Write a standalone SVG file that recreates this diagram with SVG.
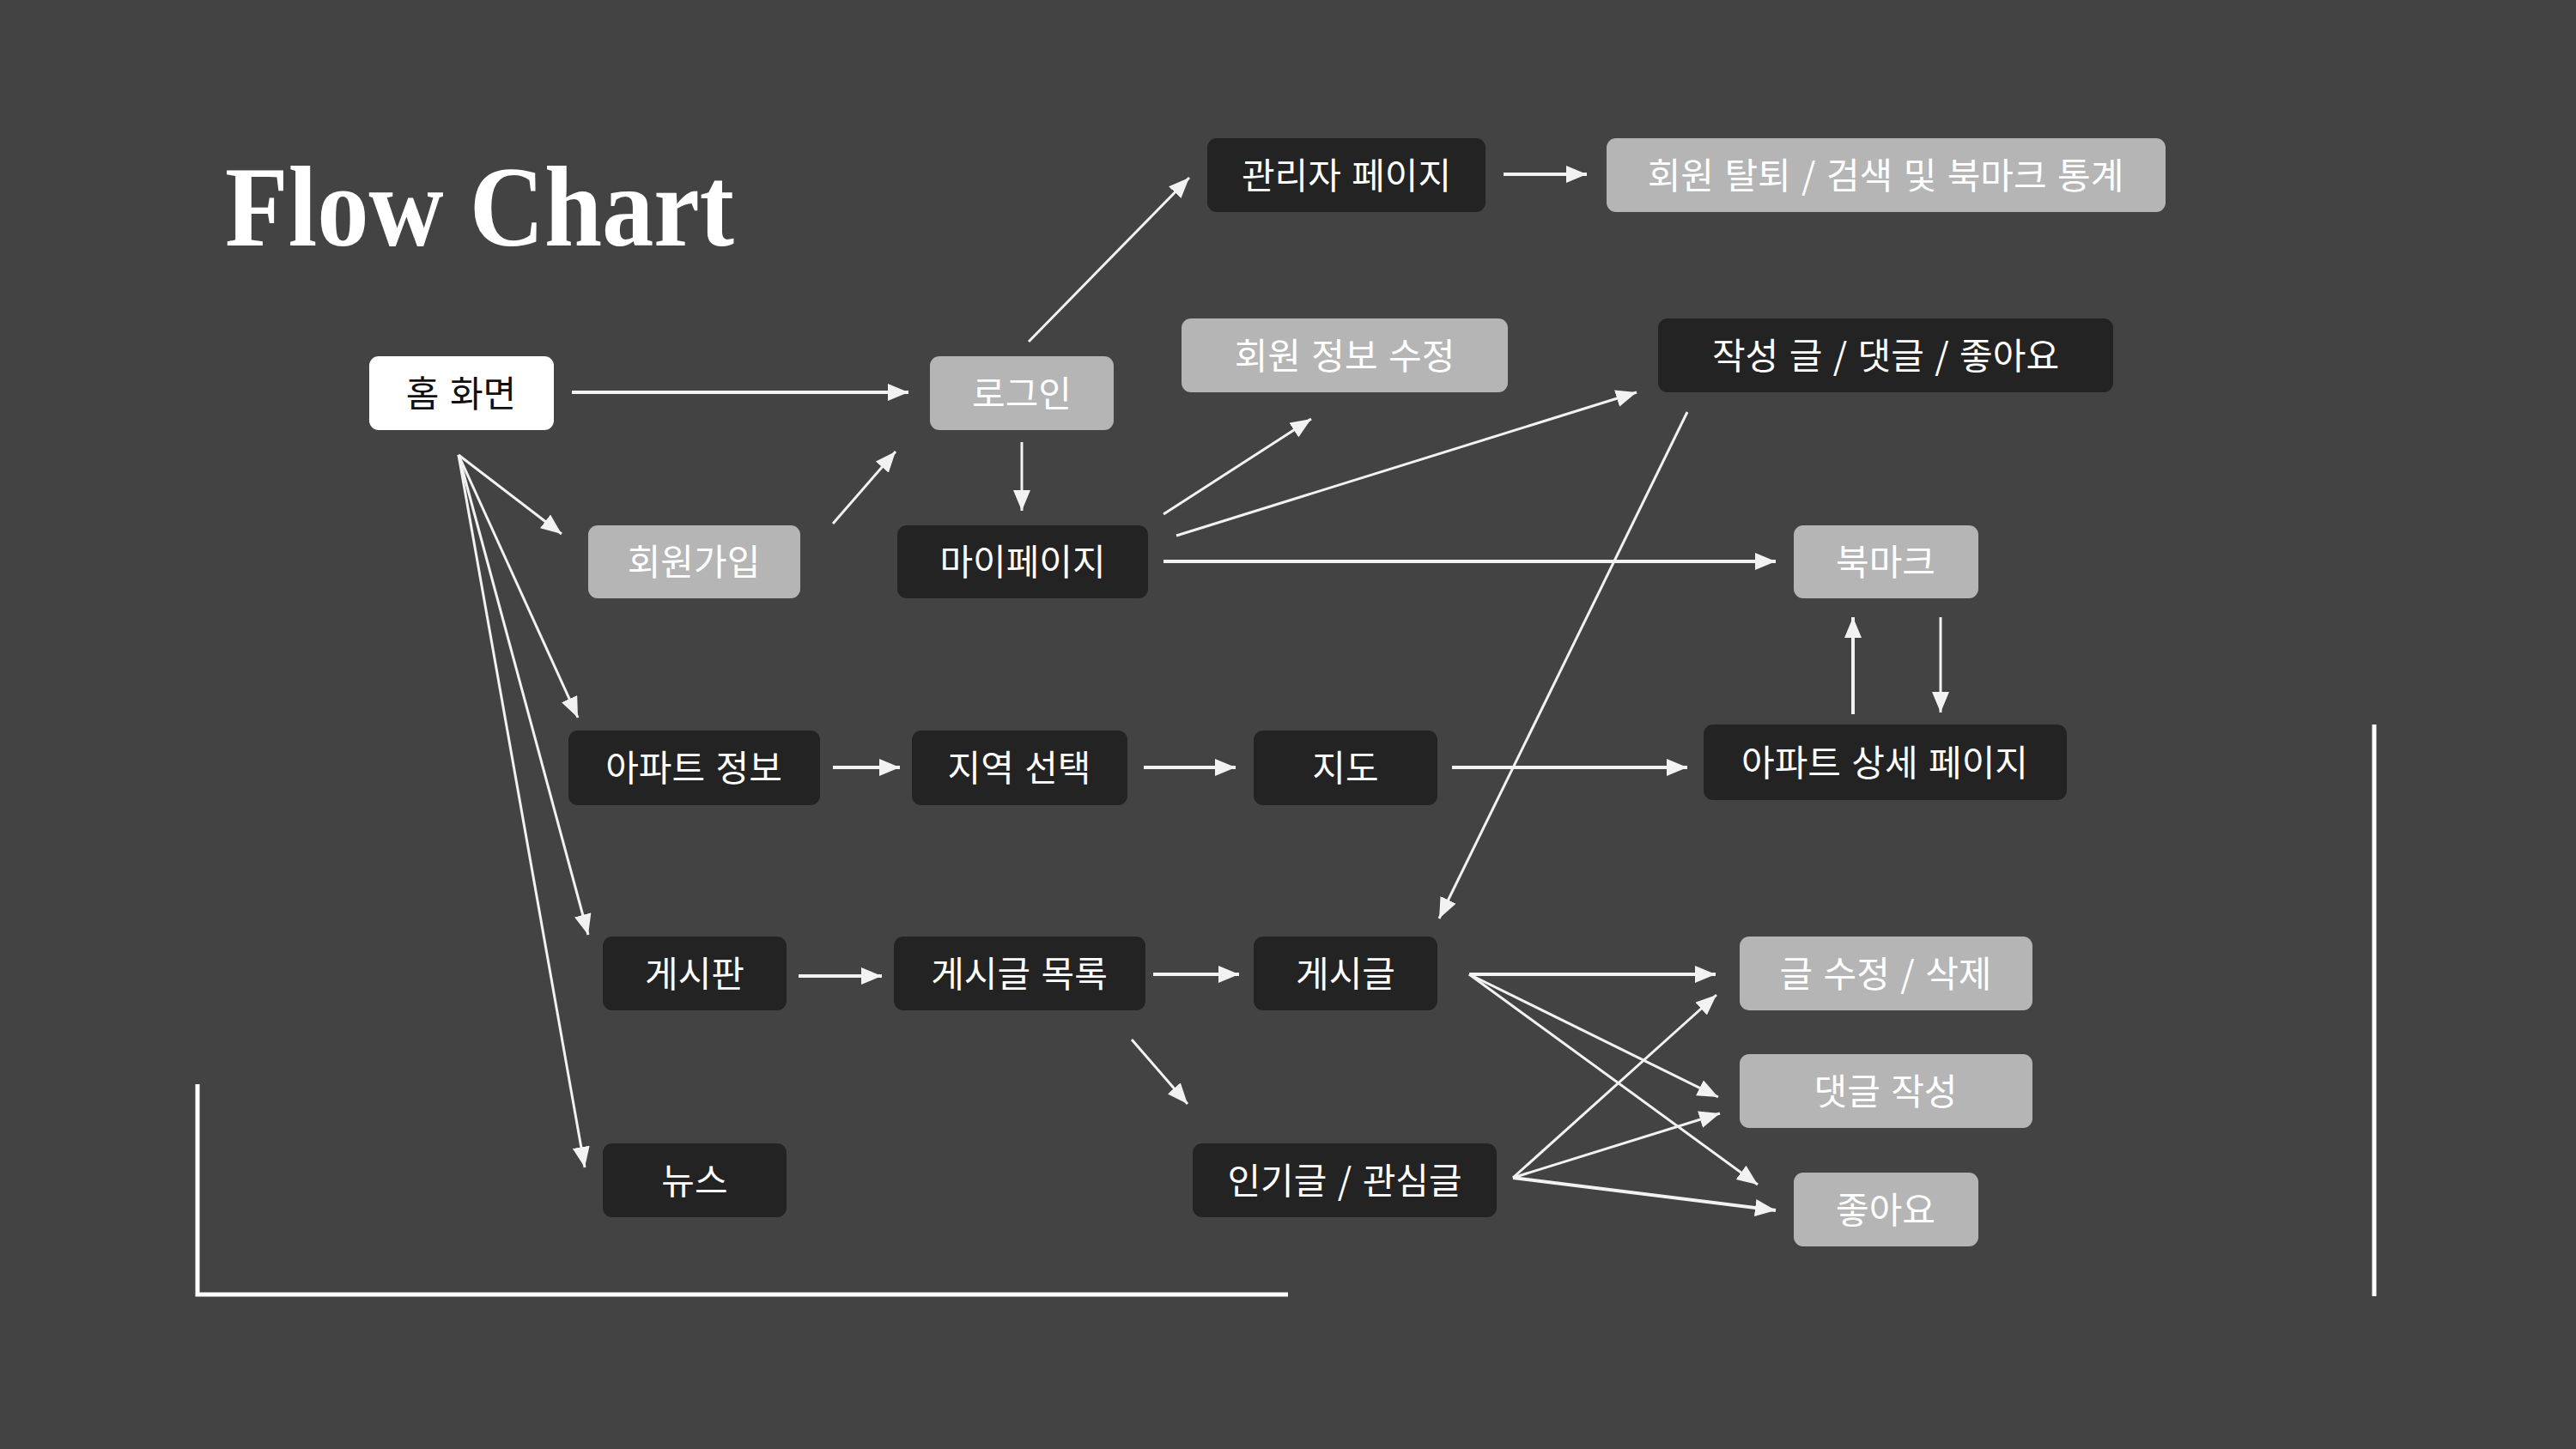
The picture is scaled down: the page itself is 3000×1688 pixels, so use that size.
<svg xmlns="http://www.w3.org/2000/svg" width="3000" height="1688" viewBox="0 0 3000 1688">
<defs>
<style>
.bg{fill:#434343}
.box{rx:11;ry:11}
.w{fill:#ffffff}
.g{fill:#b5b5b5}
.d{fill:#232323}
.t{font-family:"Noto Sans CJK KR","Noto Sans",sans-serif;font-size:42px;fill:#ffffff;text-anchor:middle;dominant-baseline:central;word-spacing:3px}
.tb{fill:#111111}
.c{stroke:#f2f2f2;stroke-width:4;fill:none;marker-end:url(#ah)}
.thin{stroke-width:3}
.deco{stroke:#ffffff;stroke-width:5;fill:none}
</style>
<marker id="ah" markerUnits="userSpaceOnUse" markerWidth="24" markerHeight="20" refX="24" refY="10" orient="auto">
<path d="M0,0 L24,10 L0,20 z" fill="#f2f2f2"/>
</marker>
</defs>
<rect class="bg" x="0" y="0" width="3000" height="1688"/>
<text x="262" y="286" font-family="'Liberation Serif',serif" font-weight="bold" font-size="134" fill="#ffffff" textLength="593" lengthAdjust="spacingAndGlyphs">Flow Chart</text>
<g id="decoration">
<polyline class="deco" points="230,1263 230,1508 1500,1508"/>
<line class="deco" x1="2765" y1="844" x2="2765" y2="1510"/>
</g>
<g id="connectors">
<line class="c" x1="666" y1="457" x2="1058" y2="457"/>
<line class="c thin" x1="1198" y1="398" x2="1385" y2="207"/>
<line class="c" x1="1751" y1="203" x2="1848" y2="203"/>
<line class="c thin" x1="1190" y1="515" x2="1190" y2="595"/>
<line class="c thin" x1="970" y1="610" x2="1043" y2="526"/>
<line class="c thin" x1="534" y1="530" x2="654" y2="622"/>
<line class="c thin" x1="534" y1="530" x2="673" y2="836"/>
<line class="c thin" x1="534" y1="530" x2="685" y2="1089"/>
<line class="c thin" x1="534" y1="530" x2="681" y2="1360"/>
<line class="c thin" x1="1355" y1="599" x2="1527" y2="488"/>
<line class="c thin" x1="1370" y1="624" x2="1906" y2="457"/>
<line class="c" x1="1355" y1="654" x2="2068" y2="654"/>
<line class="c thin" x1="1965" y1="480" x2="1676" y2="1070"/>
<line class="c" x1="2158" y1="832" x2="2158" y2="719"/>
<line class="c thin" x1="2260" y1="719" x2="2260" y2="830"/>
<line class="c" x1="970" y1="894" x2="1048" y2="894"/>
<line class="c" x1="1332" y1="894" x2="1439" y2="894"/>
<line class="c" x1="1691" y1="894" x2="1965" y2="894"/>
<line class="c" x1="930" y1="1137" x2="1027" y2="1137"/>
<line class="c" x1="1343" y1="1135" x2="1443" y2="1135"/>
<line class="c thin" x1="1318" y1="1211" x2="1383" y2="1286"/>
<line class="c" x1="1711" y1="1135" x2="1998" y2="1135"/>
<line class="c thin" x1="1711" y1="1135" x2="2001" y2="1278"/>
<line class="c thin" x1="1711" y1="1135" x2="2047" y2="1380"/>
<line class="c thin" x1="1762" y1="1372" x2="1999" y2="1159"/>
<line class="c thin" x1="1762" y1="1372" x2="2003" y2="1297"/>
<line class="c" x1="1762" y1="1372" x2="2068" y2="1410"/>
</g>
<g id="home"><rect class="box w" x="430" y="415" width="215" height="86"/><text class="t tb" x="537" y="455">홈 화면</text></g>
<g id="login"><rect class="box g" x="1083" y="415" width="214" height="86"/><text class="t" x="1190" y="455">로그인</text></g>
<g id="admin"><rect class="box d" x="1406" y="161" width="324" height="86"/><text class="t" x="1568" y="201">관리자 페이지</text></g>
<g id="admin-stats"><rect class="box g" x="1871" y="161" width="651" height="86"/><text class="t" x="2196" y="201">회원 탈퇴 / 검색 및 북마크 통계</text></g>
<g id="edit-profile"><rect class="box g" x="1376" y="371" width="380" height="86"/><text class="t" x="1566" y="411">회원 정보 수정</text></g>
<g id="my-activity"><rect class="box d" x="1931" y="371" width="530" height="86"/><text class="t" x="2196" y="411">작성 글 / 댓글 / 좋아요</text></g>
<g id="signup"><rect class="box g" x="685" y="612" width="247" height="85"/><text class="t" x="808" y="651">회원가입</text></g>
<g id="mypage"><rect class="box d" x="1045" y="612" width="292" height="85"/><text class="t" x="1191" y="651">마이페이지</text></g>
<g id="bookmark"><rect class="box g" x="2089" y="612" width="215" height="85"/><text class="t" x="2196" y="651">북마크</text></g>
<g id="apt-info"><rect class="box d" x="662" y="851" width="293" height="87"/><text class="t" x="808" y="891">아파트 정보</text></g>
<g id="region"><rect class="box d" x="1062" y="851" width="251" height="87"/><text class="t" x="1187" y="891">지역 선택</text></g>
<g id="map"><rect class="box d" x="1460" y="851" width="214" height="87"/><text class="t" x="1567" y="891">지도</text></g>
<g id="apt-detail"><rect class="box d" x="1984" y="844" width="423" height="88"/><text class="t" x="2195" y="885">아파트 상세 페이지</text></g>
<g id="board"><rect class="box d" x="702" y="1091" width="214" height="86"/><text class="t" x="809" y="1131">게시판</text></g>
<g id="post-list"><rect class="box d" x="1041" y="1091" width="293" height="86"/><text class="t" x="1187" y="1131">게시글 목록</text></g>
<g id="post"><rect class="box d" x="1460" y="1091" width="214" height="86"/><text class="t" x="1567" y="1131">게시글</text></g>
<g id="edit-post"><rect class="box g" x="2026" y="1091" width="341" height="86"/><text class="t" x="2196" y="1131">글 수정 / 삭제</text></g>
<g id="comment"><rect class="box g" x="2026" y="1228" width="341" height="86"/><text class="t" x="2196" y="1268">댓글 작성</text></g>
<g id="like"><rect class="box g" x="2089" y="1366" width="215" height="86"/><text class="t" x="2196" y="1406">좋아요</text></g>
<g id="news"><rect class="box d" x="702" y="1332" width="214" height="86"/><text class="t" x="809" y="1372">뉴스</text></g>
<g id="popular"><rect class="box d" x="1389" y="1332" width="354" height="86"/><text class="t" x="1566" y="1372">인기글 / 관심글</text></g>
</svg>
